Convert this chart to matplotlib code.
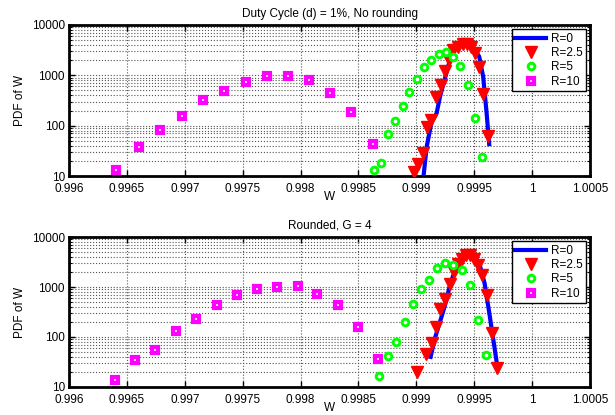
import numpy as np
import matplotlib
matplotlib.use("Agg")
import matplotlib.pyplot as plt
from matplotlib.ticker import LogLocator, FixedLocator, NullFormatter

plt.rcParams['font.family'] = ['Liberation Sans', 'DejaVu Sans']
plt.rcParams['font.size'] = 8.5

# ---------------- Top panel: No rounding ----------------
top_r0_x = [0.99906, 0.999089, 0.999132, 0.999175, 0.999204, 0.999247, 0.99929, 0.999333,
            0.999376, 0.999419, 0.999462, 0.999505, 0.999543, 0.999577, 0.999607, 0.999629]
top_r0_y = [9, 38, 120, 176, 377, 873, 2018, 3440, 4450, 4650, 4330, 3190, 2350, 940, 176, 43]

top_r25_x = [0.998982, 0.999014, 0.999057, 0.999089, 0.999126, 0.999169, 0.999212, 0.999247,
             0.999284, 0.999319, 0.99936, 0.9994, 0.999434, 0.999469, 0.999503, 0.999538,
             0.999575, 0.999615]
top_r25_y = [11.8, 17, 28, 96, 128, 371, 643, 1219, 2018, 3186, 3700, 4200, 4200, 3700,
             2740, 1486, 427, 63]

top_r5_x = [0.998631, 0.998691, 0.998752, 0.998818, 0.998881, 0.998939, 0.999002, 0.999066,
            0.999129, 0.999192, 0.999256, 0.999316, 0.999379, 0.999446, 0.999503, 0.999567]
top_r5_y = [13, 18, 68, 124, 246, 473, 860, 1486, 2018, 2620, 2870, 2280, 1556, 643, 142, 23.5]

top_r10_x = [0.99641, 0.996604, 0.996789, 0.996973, 0.997157, 0.997341, 0.997526, 0.997707,
             0.997891, 0.998073, 0.998257, 0.998438, 0.998625]
top_r10_y = [13.2, 38, 82, 158, 328, 495, 748, 970, 984, 807, 440, 190, 43]

# ---------------- Bottom panel: Rounded, G = 4 ----------------
bot_r0_x = [0.999123, 0.99916, 0.999204, 0.999247, 0.99929, 0.999333, 0.999376, 0.999419,
            0.999462, 0.999505, 0.999548, 0.99959, 0.999633, 0.999676, 0.999696]
bot_r0_y = [40, 94, 200, 430, 1080, 2160, 3420, 4650, 5000, 4300, 2720, 1170, 272, 59, 29]

bot_r25_x = [0.999002, 0.999083, 0.999132, 0.999169, 0.999204, 0.999247, 0.99929, 0.999325,
             0.999362, 0.999397, 0.999428, 0.999463, 0.999497, 0.999535, 0.999569, 0.999612,
             0.99965, 0.999693]
bot_r25_y = [20, 45, 76, 158, 370, 586, 1170, 2000, 2940, 3700, 4450, 4450, 3700, 2800,
             1770, 682, 120, 24]

bot_r5_x = [0.998681, 0.998752, 0.998824, 0.998899, 0.998971, 0.99904, 0.999106, 0.999175,
            0.999247, 0.999319, 0.999391, 0.999463, 0.999535, 0.999601]
bot_r5_y = [16.6, 41, 78, 200, 466, 899, 1362, 2400, 3076, 2716, 2230, 1117, 216, 43]

bot_r10_x = [0.996397, 0.99657, 0.996745, 0.996924, 0.997099, 0.997275, 0.997448, 0.997623,
             0.997796, 0.997974, 0.998144, 0.998326, 0.998499, 0.998671]
bot_r10_y = [13.6, 34, 56, 132, 233, 430, 682, 899, 986, 1033, 724, 444, 161, 36]

xticks = [0.996, 0.9965, 0.997, 0.9975, 0.998, 0.9985, 0.999, 0.9995, 1.0, 1.0005]
xticklabels = ['0.996', '0.9965', '0.997', '0.9975', '0.998', '0.9985', '0.999', '0.9995', '1', '1.0005']
yticks = [10, 100, 1000, 10000]
yticklabels = ['10', '100', '1000', '10000']
titles = ['Duty Cycle (d) = 1%, No rounding', 'Rounded, G = 4']
labels = ['R=0', 'R=2.5', 'R=5', 'R=10']

fig = plt.figure(figsize=(6.15, 4.15), dpi=100)
ax1 = fig.add_axes([0.1122, 0.5759, 0.8472, 0.3639])
ax2 = fig.add_axes([0.1122, 0.0675, 0.8472, 0.3614])

panels = [
    (ax1, (top_r0_x, top_r0_y), (top_r25_x, top_r25_y), (top_r5_x, top_r5_y), (top_r10_x, top_r10_y)),
    (ax2, (bot_r0_x, bot_r0_y), (bot_r25_x, bot_r25_y), (bot_r5_x, bot_r5_y), (bot_r10_x, bot_r10_y)),
]

for i, (ax, r0, r25, r5, r10) in enumerate(panels):
    ax.plot(r0[0], r0[1], color='#0000ff', lw=3, label=labels[0], zorder=3)
    ax.plot(r25[0], r25[1], ls='none', marker='v', ms=8.5, color='#ff0000',
            mec='#ff0000', label=labels[1], zorder=4)
    ax.plot(r5[0], r5[1], ls='none', marker='o', ms=4.8, mfc='white', mec='#00ff00',
            mew=2.1, label=labels[2], zorder=4)
    ax.plot(r10[0], r10[1], ls='none', marker='s', ms=3.8, mfc='white', mec='#ff00ff',
            mew=3.0, label=labels[3], zorder=4)
    ax.set_yscale('log')
    ax.set_xlim(0.996, 1.0005)
    ax.set_ylim(10, 10000)
    ax.xaxis.set_major_locator(FixedLocator(xticks))
    ax.set_xticklabels(xticklabels)
    ax.yaxis.set_major_locator(FixedLocator(yticks))
    ax.set_yticklabels(yticklabels)
    ax.yaxis.set_minor_locator(LogLocator(base=10, subs=np.arange(2, 10), numticks=20))
    ax.yaxis.set_minor_formatter(NullFormatter())
    ax.grid(True, which='major', axis='both', color='#555555', ls=':', lw=0.8)
    ax.grid(True, which='minor', axis='y', color='#555555', ls=':', lw=0.8)
    ax.tick_params(which='both', direction='in', top=True, right=True, labelsize=8.5)
    ax.tick_params(axis='x', pad=5)
    ax.tick_params(axis='y', pad=3)
    ax.tick_params(which='major', length=4, width=1)
    ax.tick_params(which='minor', length=2, width=0.8)
    for s in ax.spines.values():
        s.set_linewidth(2)
    ax.set_title(titles[i], fontsize=8.5, pad=6)
    ax.set_xlabel('W', fontsize=8.5, labelpad=-3)
    ax.set_ylabel('PDF of W', fontsize=8.5, labelpad=4)
    leg = ax.legend(loc='upper right', fontsize=8.5, frameon=True, fancybox=False,
                    borderpad=0.3, labelspacing=0.2, handlelength=2.6, handletextpad=0.4,
                    borderaxespad=0.35)
    leg.get_frame().set_edgecolor('black')
    leg.get_frame().set_linewidth(1)
    leg.get_frame().set_alpha(1)

fig.savefig('out.png', dpi=100)
